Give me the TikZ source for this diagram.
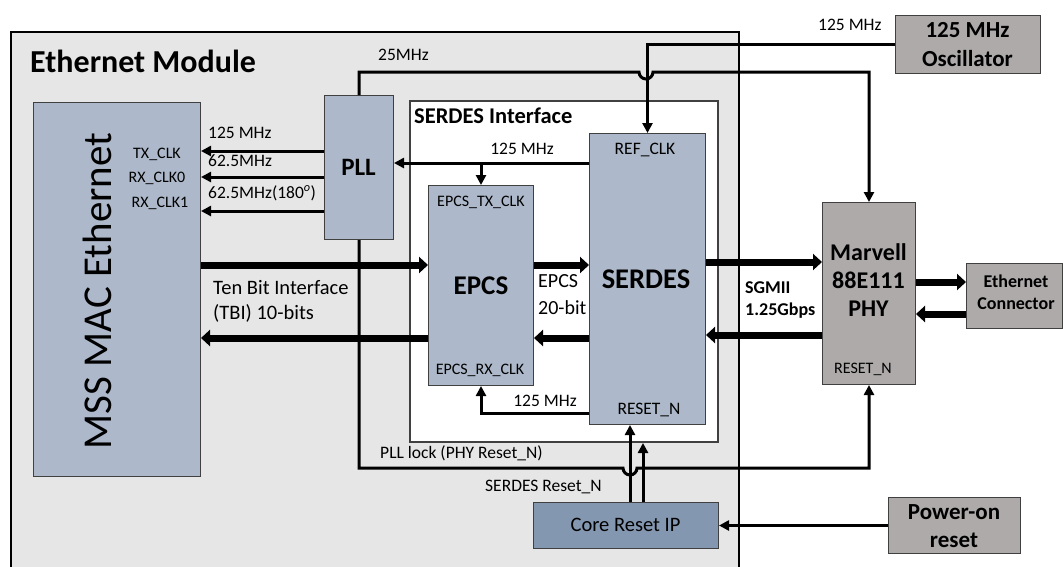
\documentclass[tikz,border=0pt]{standalone}
\usepackage{fontspec}
\setmainfont{Carlito}
\usetikzlibrary{arrows.meta,calc}
\definecolor{modfill}{HTML}{E7E6E6}
\definecolor{blk}{HTML}{ADB9CA}
\definecolor{corefill}{HTML}{8497B0}
\definecolor{grayb}{HTML}{AEAAAA}
\definecolor{edgec}{HTML}{404040}
\tikzset{
  box/.style={draw=edgec, line width=1pt, fill=blk, anchor=north west, inner sep=0pt},
  graybox/.style={box, fill=grayb},
  thinarrow/.style={line width=3pt, -{Triangle[length=10pt,width=10pt]}},
  thickarrow/.style={line width=7pt, -{Triangle[length=9pt,width=16pt]}},
  lbl/.style={inner sep=0pt, font=\fontsize{17.5}{21}\selectfont},
  lblw/.style={lbl, anchor=west},
  small/.style={inner sep=0pt, font=\fontsize{16}{19}\selectfont},
  bigb/.style={inner sep=0pt, font=\bfseries\fontsize{27}{31}\selectfont},
}
\begin{document}
\begin{tikzpicture}[x=1pt,y=-1pt]
\useasboundingbox (0,0) rectangle (1063,566);
\clip (0,0) rectangle (1063,566);
% module
\node[draw=black, line width=2pt, fill=modfill, anchor=north west, inner sep=0pt,
      minimum width=728pt, minimum height=580pt] (mod) at (10,31) {};
\node[anchor=west, inner sep=0pt, font=\bfseries\fontsize{32}{37}\selectfont] (modt) at (30,61) {Ethernet Module};
% serdes interface
\node[draw=edgec, line width=2pt, fill=white, anchor=north west, inner sep=0pt,
      minimum width=308pt, minimum height=341pt] (serif) at (409,100) {};
\node[anchor=west, inner sep=0pt, font=\bfseries\fontsize{22.5}{26}\selectfont] (seriflbl) at (414,116) {SERDES Interface};
% blocks
\node[box, minimum width=167pt, minimum height=374pt] (mac) at (33,102) {};
\node[inner sep=0pt, rotate=90, font=\fontsize{41}{48}\selectfont] (mact) at (97,291) {MSS MAC Ethernet};
\node[box, minimum width=69pt, minimum height=144pt] (pll) at (324,95) {};
\node[inner sep=0pt, font=\bfseries\fontsize{25}{29}\selectfont] (pllt) at (358.5,167) {PLL};
\node[box, minimum width=105pt, minimum height=200pt] (epcs) at (428,185) {};
\node[bigb] (epcst) at (481,286) {EPCS};
\node[box, minimum width=116pt, minimum height=291pt] (serdes) at (589,133) {};
\node[bigb, font=\bfseries\fontsize{28.5}{33}\selectfont] (serdest) at (646,279) {SERDES};
\node[graybox, minimum width=93pt, minimum height=182pt] (phy) at (822,202) {};
\node[inner sep=0pt, align=center, font=\bfseries\fontsize{24}{28}\selectfont] (phyt) at (868.5,280) {Marvell\\88E111\\PHY};
\node[graybox, minimum width=96pt, minimum height=65pt] (conn) at (966,263) {};
\node[inner sep=0pt, align=center, font=\bfseries\fontsize{18}{22}\selectfont] (connt) at (1016,292) {Ethernet\\Connector};
\node[graybox, minimum width=145pt, minimum height=58pt] (osc) at (895,15) {};
\node[inner sep=0pt, align=center, font=\bfseries\fontsize{23}{29}\selectfont] (osct) at (967.5,45) {125 MHz\\Oscillator};
\node[box, fill=corefill, minimum width=185pt, minimum height=46pt] (core) at (533,502) {};
\node[inner sep=0pt, font=\fontsize{20.5}{24}\selectfont] (coret) at (625.5,525) {Core Reset IP};
\node[graybox, minimum width=132pt, minimum height=56pt] (por) at (888,497) {};
\node[inner sep=0pt, align=center, font=\bfseries\fontsize{23}{28}\selectfont] (port) at (954,526) {Power-on\\reset};
% inner labels
\node[small] (txclk) at (157,154) {TX\_CLK};
\node[small] (rxclk0) at (157,178) {RX\_CLK0};
\node[small] (rxclk1) at (160,203) {RX\_CLK1};
\node[small] (epcstx) at (481,202) {EPCS\_TX\_CLK};
\node[small] (epcsrx) at (480,370) {EPCS\_RX\_CLK};
\node[lbl] (refclk) at (645,150) {REF\_CLK};
\node[lbl] (serrst) at (649,410) {RESET\_N};
\node[small] (phyrst) at (863,369) {RESET\_N};
% clock arrows PLL -> MAC
\draw[thinarrow] (pll.west |- 0,151) -- (mac.east |- 0,151);
\draw[thinarrow] (pll.west |- 0,177) -- (mac.east |- 0,177);
\draw[thinarrow] (pll.west |- 0,211) -- (mac.east |- 0,211);
\node[lblw] (l125a) at (208,133) {125 MHz};
\node[lblw] (l625a) at (208,161) {62.5MHz};
\node[lblw] (l625b) at (208,193) {62.5MHz(180\textsuperscript{\textit{o}})};
% 25 MHz line with hop
\draw[thinarrow] (pll.north) |- (639,72) arc[start angle=180, end angle=0, radius=7] -| (phy.north);
\node[lblw] (l25) at (378,55) {25MHz};
% oscillator line
\draw[thinarrow] (osc.west) -| (serdes.north);
\node[lblw] (l125o) at (818,25) {125 MHz};
% serdes 125 MHz to PLL and EPCS
\coordinate (j1) at (epcs.north |- 0,163);
\draw[thinarrow] (serdes.west |- 0,163) -- (pll.east |- 0,163);
\draw[thinarrow] (j1) -- (epcs.north);
\node[lbl] (l125b) at (522,149) {125 MHz};
\draw[thinarrow] (serdes.west |- 0,413) -| (epcs.south);
\node[lbl] (l125c) at (545,401) {125 MHz};
% data paths
\draw[thickarrow] (mac.east |- 0,265) -- (epcs.west |- 0,265);
\draw[thickarrow] (epcs.west |- 0,338) -- (mac.east |- 0,338);
\draw[thickarrow] (epcs.east |- 0,265) -- (serdes.west |- 0,265);
\draw[thickarrow] (serdes.west |- 0,338) -- (epcs.east |- 0,338);
\draw[thickarrow] (serdes.east |- 0,262) -- (phy.west |- 0,262);
\draw[thickarrow] (phy.west |- 0,335) -- (serdes.east |- 0,335);
\draw[thickarrow] (phy.east |- 0,282) -- (conn.west |- 0,282);
\draw[thickarrow] (conn.west |- 0,314) -- (phy.east |- 0,314);
\node[lblw, font=\fontsize{20.5}{24}\selectfont] (tbi1) at (213,288) {Ten Bit Interface};
\node[lblw, font=\fontsize{20.5}{24}\selectfont] (tbi2) at (213,313) {(TBI) 10-bits};
\node[lblw, font=\fontsize{20}{24}\selectfont] (e20a) at (538,281) {EPCS};
\node[lblw, font=\fontsize{20}{24}\selectfont] (e20b) at (538,308) {20-bit};
\node[lblw, font=\bfseries\fontsize{18}{22}\selectfont] (sg1) at (745,288) {SGMII};
\node[lblw, font=\bfseries\fontsize{18}{22}\selectfont] (sg2) at (745,311) {1.25Gbps};
% PLL lock line with hop
\draw[thinarrow] (pll.south) |- (623,468) arc[start angle=180, end angle=0, radius=7] -| (phy.south);
\node[lblw] (lpll) at (380,453) {PLL lock (PHY Reset\_N)};
% resets
\draw[thinarrow] (core.north -| 630,0) -- (serdes.south -| 630,0);
\draw[thinarrow] (core.north -| 643,0) -- (serif.south -| 643,0);
\node[lblw] (lsr) at (485,487) {SERDES Reset\_N};
\draw[thinarrow] (por.west) -- (core.east);
\end{tikzpicture}
\end{document}
